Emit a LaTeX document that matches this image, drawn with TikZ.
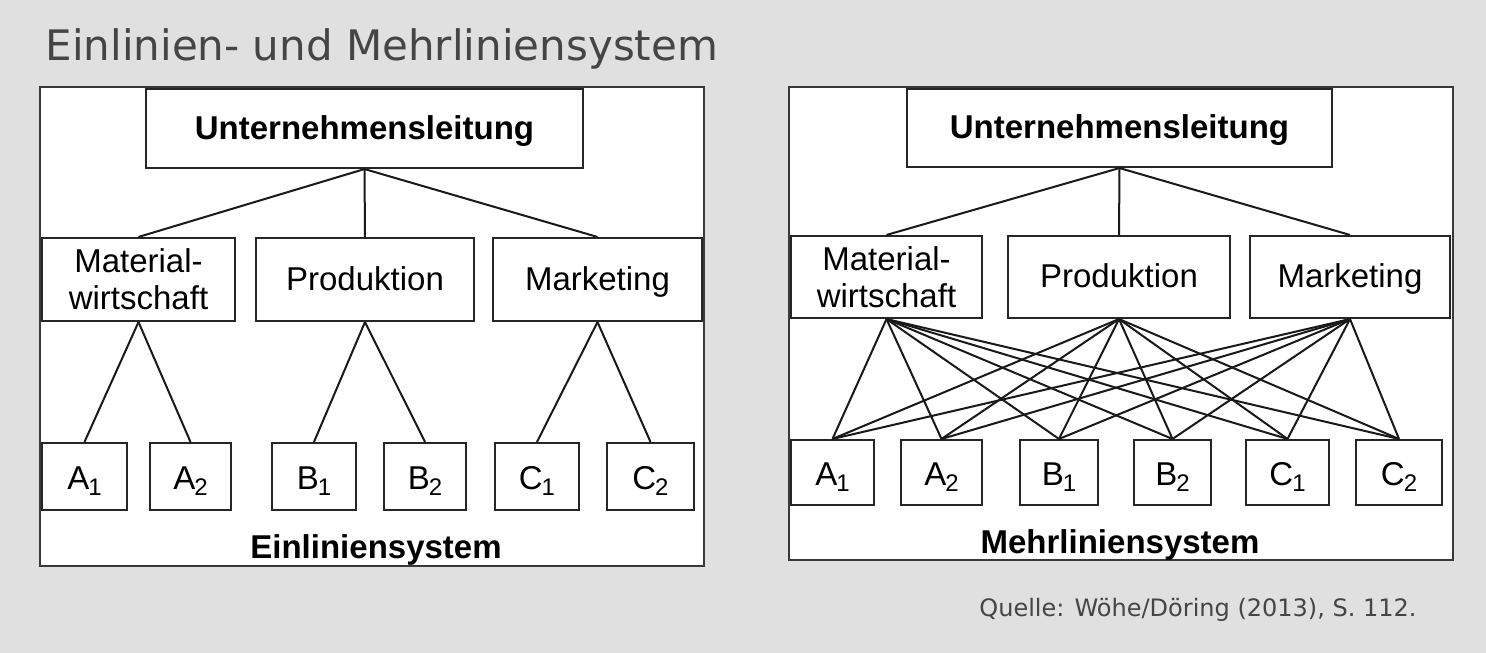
\documentclass[tikz,border=0pt]{standalone}
\usepackage{fontspec}
\setmainfont{Liberation Sans}
\newfontfamily\slidefont{DejaVu Sans}

\definecolor{slidebg}{HTML}{E0E0E0}
\definecolor{slidetext}{HTML}{454545}

\begin{document}
\begin{tikzpicture}[
    x=1pt, y=-1pt,
    font=\fontsize{33}{37}\selectfont,
    panel/.style={
        draw=gray!45!black, line width=1.4pt, fill=white
    },
    unit/.style={
        draw=black!85, line width=2.1pt, fill=white,
        align=center, inner sep=0pt
    },
    oneline/.style={
        text height=26pt, text depth=5pt
    },
    twoline/.style={},
    leaf/.style={
        unit, text height=28pt, text depth=3pt, minimum width=84pt
    },
    link/.style={
        black!90, line width=2pt
    },
    caption/.style={
        font=\fontsize{33}{37}\selectfont\bfseries, anchor=base
    }
]

\newcommand{\idx}[2]{#1\kern-1pt\raisebox{-6pt}{\fontsize{24}{24}\selectfont #2}}

%% ── Hintergrund ─────────────────────────────
\fill[slidebg] (0,0) rectangle (1486,653);

\node[anchor=base west, text=slidetext, font=\slidefont\fontsize{42}{46}\selectfont]
    (title) at (42,60) {Einlinien- und Mehrliniensystem};

\node[anchor=base east, text=slidetext, font=\slidefont\fontsize{24}{28}\selectfont]
    (quelle) at (1420,616) {Quelle: Wöhe/Döring (2013), S. 112.};

% ══════════════════════════════════════
%  PANEL 1 – Einliniensystem
% ══════════════════════════════════════
\begin{scope}
    \draw[panel] (40,87) rectangle (704,566);

    \node[unit, oneline, minimum width=437pt, minimum height=79pt] (eUL)
        at (364.5,128.5) {\bfseries Unternehmensleitung};

    \foreach \nm/\x/\w/\st/\txt in {MW/138.5/193/twoline/{Material-\\wirtschaft},
                                     PR/365/218/oneline/Produktion,
                                     MK/597.5/209/oneline/Marketing}{
        \node[unit, \st, minimum width=\w pt, minimum height=83pt] (e\nm)
            at (\x,279.5) {\txt};
    }

    \foreach \l/\i/\x/\w in {A/1/84.5/85, A/2/190.5/81, B/1/314/84,
                             B/2/425/82, C/1/537/84, C/2/650.5/87}{
        \node[leaf, minimum width=\w pt, minimum height=67pt] (e\l\i)
            at (\x,476.5) {\idx{\l}{\i}};
    }

    % Linien: je eine Instanz pro Stelle
    \foreach \m in {MW,PR,MK}{
        \draw[link] (eUL.south) -- (e\m.north);
    }
    \foreach \m/\l in {MW/A, PR/B, MK/C}{
        \foreach \i in {1,2}{
            \draw[link] (e\m.south) -- (e\l\i.north);
        }
    }

    \node[caption] (eCap) at (376,558) {Einliniensystem};
\end{scope}

% ══════════════════════════════════════
%  PANEL 2 – Mehrliniensystem
% ══════════════════════════════════════
\begin{scope}
    \draw[panel] (789,87) rectangle (1453,560);

    \node[unit, oneline, minimum width=425pt, minimum height=78pt] (mUL)
        at (1119.5,128) {\bfseries Unternehmensleitung};

    \foreach \nm/\x/\w/\st/\txt in {MW/886.5/191/twoline/{Material-\\wirtschaft},
                                     PR/1119/222/oneline/Produktion,
                                     MK/1350/200/oneline/Marketing}{
        \node[unit, \st, minimum width=\w pt, minimum height=82pt] (m\nm)
            at (\x,277) {\txt};
    }

    \foreach \l/\i/\x/\w in {A/1/832.5/83, A/2/941.5/81, B/1/1059/78,
                             B/2/1172.5/77, C/1/1287.5/83, C/2/1399/86}{
        \node[leaf, minimum width=\w pt, minimum height=65pt] (m\l\i)
            at (\x,472.5) {\idx{\l}{\i}};
    }

    \foreach \m in {MW,PR,MK}{
        \draw[link] (mUL.south) -- (m\m.north);
    }
    % jede Stelle an jede Instanz
    \foreach \m in {MW,PR,MK}{
        \foreach \l in {A,B,C}{
            \foreach \i in {1,2}{
                \draw[link] (m\m.south) -- (m\l\i.north);
            }
        }
    }

    \node[caption] (mCap) at (1120,553) {Mehrliniensystem};
\end{scope}

\end{tikzpicture}
\end{document}
